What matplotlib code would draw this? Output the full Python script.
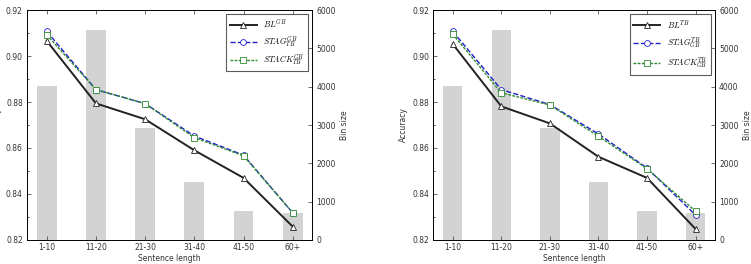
import numpy as np
import matplotlib.pyplot as plt

# ---------------------------------------------------------
# datos
# ---------------------------------------------------------
categorias = ["1-10", "11-20", "21-30", "31-40", "41-50", "60+"]
bin_size = [4030, 5475, 2920, 1500, 750, 705]

bl_gb = [0.9066, 0.8794, 0.8725, 0.8590, 0.8470, 0.8258]
stag_gb = [0.9107, 0.8854, 0.8793, 0.8652, 0.8569, 0.8318]
stack_gb = [0.9092, 0.8854, 0.8793, 0.8645, 0.8566, 0.8318]

bl_tb = [0.9052, 0.8781, 0.8707, 0.8562, 0.8470, 0.8248]
stag_tb = [0.9107, 0.8854, 0.8789, 0.8661, 0.8513, 0.8309]
stack_tb = [0.9095, 0.8840, 0.8787, 0.8651, 0.8510, 0.8325]

etiquetas_gb = [r"$BL^{GB}$", r"$STAG^{GB}_{TB}$", r"$STACK^{GB}_{TB}$"]
etiquetas_tb = [r"$BL^{TB}$", r"$STAG^{TB}_{GB}$", r"$STACK^{TB}_{GB}$"]

plt.rcParams["font.size"] = 5.5
plt.rcParams["mathtext.fontset"] = "cm"
gris_texto = "#333333"

fig = plt.figure(figsize=(7.51, 2.64), dpi=100)
x = np.arange(len(categorias))


def panel(pos, bl, stag, stack, etiquetas):
    ax = fig.add_axes(pos)
    ax2 = ax.twinx()
    ax2.bar(x, bin_size, width=0.4, color="#d3d3d3", zorder=1)
    ax2.set_ylim(0, 6000)
    ax2.set_ylabel("Bin size", color=gris_texto, labelpad=3)

    ax.set_zorder(ax2.get_zorder() + 1)
    ax.patch.set_visible(False)

    ax.plot(x, bl, "-", color="#222222", lw=1.4, marker="^", ms=4.2,
            mfc="white", mec="#222222", mew=0.6, label=etiquetas[0])
    ax.plot(x, stag, "--", color="#1f1fcc", lw=1.0, marker="o", ms=4.2,
            mfc="white", mec="#1f1fcc", mew=0.6, label=etiquetas[1])
    ax.plot(x, stack, linestyle=(0, (2, 1)), color="#2e8b2e", lw=1.0, marker="s",
            ms=4.2, mfc="white", mec="#2e8b2e", mew=0.6, label=etiquetas[2])

    ax.set_xlim(-0.4, 5.4)
    ax.set_ylim(0.82, 0.92)
    ax.set_yticks(np.arange(0.82, 0.921, 0.02))
    ax.set_yticks(np.arange(0.83, 0.92, 0.02), minor=True)
    ax.set_xticks(x)
    ax.set_xticklabels(categorias)
    ax.set_xlabel("Sentence length", color=gris_texto, labelpad=1)
    ax.set_ylabel("Accuracy", color=gris_texto, labelpad=3)

    for a in (ax, ax2):
        a.tick_params(direction="in", length=3, width=0.5, colors=gris_texto,
                      labelsize=5.5, pad=3)
        a.tick_params(which="minor", direction="in", length=1.5, width=0.5)
        for s in a.spines.values():
            s.set_linewidth(0.6)
    ax.tick_params(axis="x", top=True, pad=2.5)

    leg = ax.legend(loc="upper right", fontsize=6, handlelength=3.2,
                    borderpad=0.45, labelspacing=0.5, fancybox=False)
    leg.get_frame().set_edgecolor("#333333")
    leg.get_frame().set_linewidth(0.8)
    return ax


panel([0.036, 0.091, 0.380, 0.871], bl_gb, stag_gb, stack_gb, etiquetas_gb)
panel([0.577, 0.091, 0.375, 0.871], bl_tb, stag_tb, stack_tb, etiquetas_tb)

fig.savefig("out.png", dpi=100)
